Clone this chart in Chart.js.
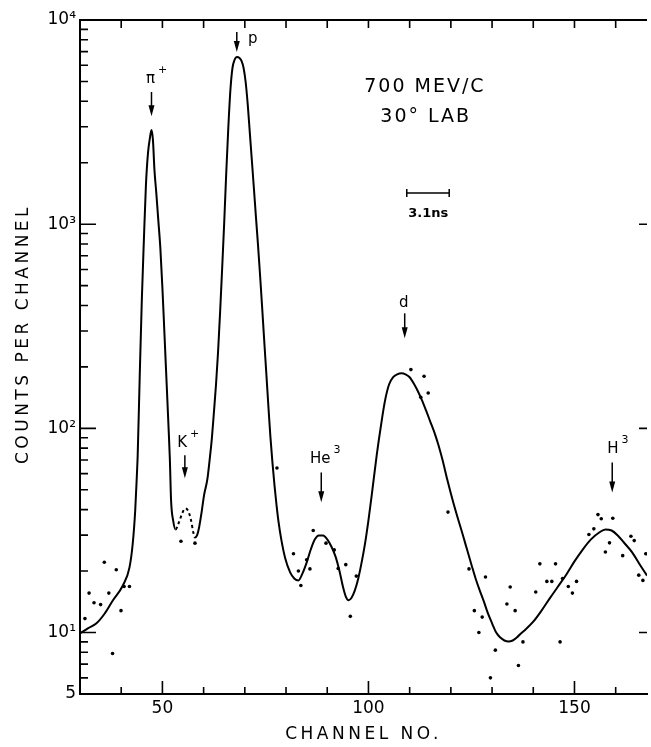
<!DOCTYPE html>
<html>
<head>
<meta charset="utf-8">
<script src="https://cdn.jsdelivr.net/npm/chart.js@4.4.1/dist/chart.umd.min.js"></script>
<style>
  html, body { margin: 0; padding: 0; background: #fff; }
</style>
</head>
<body>
<canvas id="chart" width="651" height="747"></canvas>
<script>
// 1. 데이터: 손으로 그린 곡선 (채널, 계수)
const curveChannels = [30, 32, 34, 36, 38, 40.4, 42, 42.8, 43.4, 43.8, 44, 44.5, 45, 45.5, 46, 46.5, 47, 47.35, 47.7, 48.07,
  48.5, 49, 49.5, 50, 50.5, 51, 51.5, 51.8, 52.1, 52.6, 53.2, 54, 54.7, 55.5, 56.2, 56.9, 57.5, 57.9, 58.4, 58.9,
  59.5, 60.1, 60.9, 61.5, 62.0, 62.5, 63.0, 63.5, 64.0, 64.5, 65.0, 65.5, 66.0, 66.5, 67.0, 67.5, 68.1, 68.7, 69.2, 69.7,
  70.2, 70.7, 71.2, 71.7, 72.2, 72.7, 73.2, 73.7, 74.2, 74.7, 75.2, 75.7, 76.2, 76.7, 77.2, 77.7, 78.2, 78.8, 79.8, 81,
  82, 83, 84, 85, 86, 87, 88, 89, 90, 91, 92, 93, 93.8, 94.5, 95.2, 95.9, 96.7, 97.5, 98.3, 99.2,
  100, 101, 102, 103, 104, 105, 106, 107, 108, 109, 110, 111, 112, 113, 114, 115, 116, 117, 118, 119, 120,
  121, 122, 123, 124, 125, 126, 127, 128, 129, 130, 131, 132, 133, 134, 135, 136, 137, 138, 140, 142,
  144, 146, 148, 150, 152, 154, 156, 157.5, 159, 160.5, 162, 164, 166, 167.6];
const curveCounts = [9.9, 10.5, 11.1, 12.4, 14.4, 17.0, 20.8, 27.3, 39.6, 58.9, 73.8, 182, 424, 835, 1553, 2229, 2670, 2891, 2583, 1840,
  1435, 1047, 763, 486, 289, 170, 100, 71.3, 44.4, 35.4, 32, 34.6, 37.9, 40.5, 39.6, 35.8, 30.9, 29.2, 29.9, 32.7,
  38.7, 47, 56.2, 71.3, 89.3, 120, 163, 236, 371, 608, 1022, 1800, 2990, 4540, 5820, 6370, 6590, 6520, 6300, 5820,
  4970, 3870, 2825, 2060, 1500, 1082, 789, 562, 392, 270, 188, 130, 91.4, 68.1, 52.6, 42, 34.6, 28.9, 23.1, 19.7,
  18.4, 18.0, 19.5, 22.0, 25.5, 28.6, 29.9, 29.9, 28.6, 26.4, 23.6, 19.9, 16.8, 15.0, 14.4, 14.8, 16.1, 18.3, 21.8, 27.5,
  35.4, 50.8, 73.8, 102, 136, 164, 178, 184, 186, 184, 178, 166, 152, 137, 122, 108, 95.5, 82.6, 69.7, 57.5, 48.0,
  40.5, 34.6, 29.6, 25.2, 21.5, 18.4, 16.1, 14.2, 12.4, 11.1, 10.0, 9.45, 9.14, 9.04, 9.14, 9.45, 9.9, 10.3, 11.3, 12.8,
  14.7, 16.8, 19.2, 22.3, 25.5, 28.6, 30.9, 32.0, 31.6, 29.9, 27.6, 24.7, 21.3, 19.0];

// 곡선에서 벗어난 측정점
const dotChannels = [31.2, 32.2, 33.4, 35.0, 35.9, 37.0, 37.9, 38.8, 39.95, 40.7, 42.0, 54.5, 57.9, 77.8, 81.8, 83.0, 83.6, 85.0,
  85.8, 86.6, 89.7, 91.7, 92.65, 94.5, 95.6, 97.05, 110.3, 113.5, 112.7, 114.5, 119.3, 124.4, 128.4, 125.7, 126.8, 127.6,
  130.8, 129.6, 133.6, 134.4, 135.6, 136.4, 137.5, 140.6, 141.6, 143.3, 144.5, 145.4, 146.5, 147.1, 148.5, 149.5, 150.5,
  153.5, 154.7, 155.7, 156.5, 159.3, 157.5, 158.5, 161.7, 163.7, 164.5, 165.6, 166.6, 167.3];
const dotCounts = [11.7, 15.6, 14.0, 13.7, 22.1, 15.6, 7.9, 20.3, 12.8, 16.8, 16.8, 28.0, 27.4, 64, 24.3, 20, 17, 22.7,
  20.5, 31.6, 27.4, 25.4, 20.6, 21.5, 12.0, 18.9, 194, 180, 142, 149, 38.9, 20.5, 18.7, 12.8, 10.0, 11.9,
  8.2, 6.0, 13.8, 16.7, 12.8, 6.9, 9.0, 15.8, 21.7, 17.8, 17.8, 21.7, 9.0, 18.4, 16.8, 15.6, 17.8,
  30.2, 32.2, 37.8, 36.1, 36.3, 24.8, 27.5, 23.8, 29.6, 28.2, 19.1, 18, 24.3];

// 눈금
const xTicks = [40, 50, 60, 70, 80, 90, 100, 110, 120, 130, 140, 150, 160];
const xLabels = { 50: '50', 100: '100', 150: '150' };
const yDecades = [10, 100, 1000, 10000];
const yLabels = { 5: '5', 10: '10¹', 100: '10²', 1000: '10³', 10000: '10⁴' };
const yTicks = [5, 6, 7, 8, 9];
yDecades.slice(0, 3).forEach(d => { for (let m = 1; m < 10; m++) yTicks.push(d * m); });
yTicks.push(10000);

// 입자 표시 (화살표 위치, 글자 위치: 채널/계수 단위)
const markers = [
  { base: 'π', sup: '+', ch: 47.35, textCh: 47.1, text: 4910, from: 4440, to: 3380 },
  { base: 'p', sup: '', ch: 68.05, textCh: 71.9, text: 7710, from: 8730, to: 6970 },
  { base: 'K', sup: '+', ch: 55.45, textCh: 54.8, text: 80.8, from: 73.8, to: 56.9 },
  { base: 'He', sup: '3', ch: 88.55, textCh: 88.3, text: 67.3, from: 60.8, to: 43.4 },
  { base: 'd', sup: '', ch: 108.8, textCh: 108.55, text: 392, from: 366, to: 276 },
  { base: 'H', sup: '3', ch: 159.16, textCh: 159.3, text: 75.4, from: 68.1, to: 48.5 }
];

const FONT = '"DejaVu Sans", sans-serif';

function drawLabel(ctx, m, x, y) {
  const px = x.getPixelForValue(m.textCh);
  const base = y.getPixelForValue(m.text);
  ctx.font = '15px ' + FONT;
  const w = ctx.measureText(m.base).width;
  ctx.textAlign = 'left';
  ctx.textBaseline = 'alphabetic';
  ctx.fillText(m.base, px - w / 2, base);
  if (m.sup) {
    ctx.font = '11px ' + FONT;
    ctx.fillText(m.sup, px + w / 2 + 3, base - 10);
  }
  // 화살표
  const ax = x.getPixelForValue(m.ch);
  const y1 = y.getPixelForValue(m.from);
  const y2 = y.getPixelForValue(m.to);
  ctx.lineWidth = 1.5;
  ctx.beginPath();
  ctx.moveTo(ax, y1);
  ctx.lineTo(ax, y2 - 6);
  ctx.stroke();
  ctx.beginPath();
  ctx.moveTo(ax - 3, y2 - 11);
  ctx.lineTo(ax + 3, y2 - 11);
  ctx.lineTo(ax, y2);
  ctx.closePath();
  ctx.fill();
}

const framePlugin = {
  id: 'frame',
  afterDraw(chart) {
    const { ctx, chartArea: a, scales: { x, y } } = chart;
    ctx.save();
    ctx.strokeStyle = '#000';
    ctx.fillStyle = '#000';

    // 위쪽 테두리
    ctx.lineWidth = 2;
    ctx.beginPath();
    ctx.moveTo(a.left - 1, a.top);
    ctx.lineTo(a.right, a.top);
    ctx.stroke();

    // 안쪽 눈금
    ctx.lineWidth = 1.6;
    ctx.beginPath();
    xTicks.forEach(v => {
      const px = x.getPixelForValue(v);
      ctx.moveTo(px, a.bottom);
      ctx.lineTo(px, a.bottom - (xLabels[v] ? 13 : 7));
      ctx.moveTo(px, a.top);
      ctx.lineTo(px, a.top + 8);
    });
    yTicks.forEach(v => {
      const py = y.getPixelForValue(v);
      const major = yDecades.includes(v);
      ctx.moveTo(a.left, py);
      ctx.lineTo(a.left + (major ? 16 : 8), py);
      if (major) {
        ctx.moveTo(a.right, py);
        ctx.lineTo(a.right - 8, py);
      }
    });
    ctx.stroke();

    // 축 제목
    ctx.font = '17px ' + FONT;
    ctx.letterSpacing = '3.5px';
    ctx.textAlign = 'center';
    ctx.textBaseline = 'middle';
    ctx.fillText('CHANNEL NO.', (a.left + a.right) / 2, 735);
    ctx.save();
    ctx.translate(24, 334);
    ctx.rotate(-Math.PI / 2);
    ctx.fillText('COUNTS PER CHANNEL', 0, 0);
    ctx.restore();

    // 조건 표시
    ctx.font = '19px ' + FONT;
    ctx.letterSpacing = '2px';
    ctx.fillText('700 MEV/C', x.getPixelForValue(113.7), y.getPixelForValue(4700));
    ctx.fillText('30° LAB', x.getPixelForValue(113.9), y.getPixelForValue(3350));
    ctx.letterSpacing = '0px';

    // 시간 눈금 막대
    const bx1 = x.getPixelForValue(109.3);
    const bx2 = x.getPixelForValue(119.6);
    const by = y.getPixelForValue(1420);
    ctx.lineWidth = 1.5;
    ctx.beginPath();
    ctx.moveTo(bx1, by); ctx.lineTo(bx2, by);
    ctx.moveTo(bx1, by - 4); ctx.lineTo(bx1, by + 4);
    ctx.moveTo(bx2, by - 4); ctx.lineTo(bx2, by + 4);
    ctx.stroke();
    ctx.font = 'bold 13px ' + FONT;
    ctx.fillText('3.1ns', x.getPixelForValue(114.5), y.getPixelForValue(1130));

    markers.forEach(m => drawLabel(ctx, m, x, y));
    ctx.restore();
  }
};

Chart.defaults.font.family = FONT;
Chart.defaults.color = '#000';

new Chart(document.getElementById('chart'), {
  type: 'scatter',
  data: {
    datasets: [
      {
        type: 'line',
        data: curveChannels.map((c, i) => ({ x: c, y: curveCounts[i] })),
        borderColor: '#000',
        borderWidth: 2,
        pointRadius: 0,
        fill: false,
        cubicInterpolationMode: 'monotone',
        segment: {
          borderDash: s => (s.p0.parsed.x >= 53 && s.p1.parsed.x <= 58) ? [3, 3] : undefined
        }
      },
      {
        data: dotChannels.map((c, i) => ({ x: c, y: dotCounts[i] })),
        backgroundColor: '#000',
        borderWidth: 0,
        pointRadius: 1.8
      }
    ]
  },
  options: {
    responsive: false,
    animation: false,
    layout: { padding: { top: 20, right: 0, left: 0, bottom: 0 } },
    plugins: { legend: { display: false }, tooltip: { enabled: false } },
    scales: {
      x: {
        type: 'linear',
        min: 30,
        max: 167.6,
        afterFit: s => { s.height = 53; },
        afterBuildTicks: s => { s.ticks = xTicks.map(v => ({ value: v })); },
        grid: { display: false, drawTicks: false },
        border: { display: true, color: '#000', width: 2 },
        ticks: { padding: 4, font: { size: 17 }, autoSkip: false, maxRotation: 0, callback: v => xLabels[v] || '' }
      },
      y: {
        type: 'logarithmic',
        min: 5,
        max: 10000,
        afterFit: s => { s.width = 80; },
        afterBuildTicks: s => { s.ticks = yTicks.map(v => ({ value: v })); },
        grid: { display: false, drawTicks: false },
        border: { display: true, color: '#000', width: 2 },
        ticks: { padding: 4, font: { size: 17 }, autoSkip: false, callback: v => yLabels[v] || '' }
      }
    }
  },
  plugins: [framePlugin]
});
</script>
</body>
</html>
